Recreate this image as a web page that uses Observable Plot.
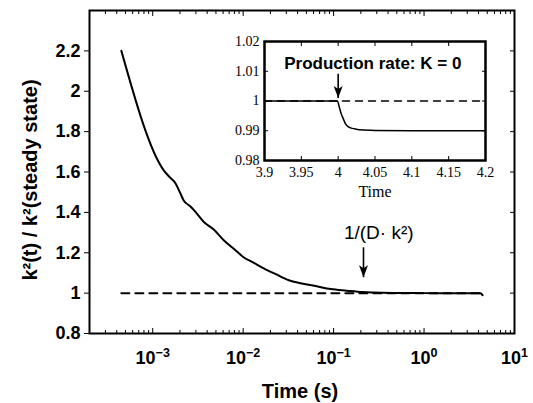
<!DOCTYPE html>
<html>
<head>
<meta charset="utf-8">
<script src="https://cdn.jsdelivr.net/npm/d3@7"></script>
<script src="https://cdn.jsdelivr.net/npm/@observablehq/plot@0.6"></script>
<style>
  html, body { margin: 0; padding: 0; background: white; }
  #chart { position: relative; width: 533px; height: 403px; overflow: hidden; }
</style>
</head>
<body>
<div id="chart"></div>
<script>
// ---------- data ----------
const times = [4.5e-4, 1.33e-3, 1.55e-3, 1.79e-3, 2.0e-3, 2.2e-3, 2.6e-3, 3.0e-3, 3.7e-3, 4.7e-3, 6.1e-3, 8e-3, 1.01e-2, 1.3e-2, 1.69e-2, 2.3e-2, 3.2e-2, 4.3e-2, 6.3e-2, 9.3e-2, 0.14, 0.21, 0.35, 0.55, 1.0, 2.0, 3.5, 4.2, 4.43];
const ratio = [2.2, 1.607, 1.573, 1.543, 1.499, 1.459, 1.43, 1.40, 1.351, 1.316, 1.262, 1.217, 1.178, 1.151, 1.123, 1.094, 1.064, 1.049, 1.035, 1.020, 1.012, 1.005, 1.0015, 1.001, 1.0, 1.0, 1.0, 1.0, 0.99];
const steadyTimes = [4.5e-4, 4.43];
const steadyLevel = 1;

const xMajor = [1e-3, 1e-2, 1e-1, 1e0, 1e1];
const xMajorLabels = ["10^\u22123", "10^\u22122", "10^\u22121", "10^0", "10^1"];
const xMinor = [2e-4,3e-4,4e-4,5e-4,6e-4,7e-4,8e-4,9e-4,2e-3,3e-3,4e-3,5e-3,6e-3,7e-3,8e-3,9e-3,2e-2,3e-2,4e-2,5e-2,6e-2,7e-2,8e-2,9e-2,0.2,0.3,0.4,0.5,0.6,0.7,0.8,0.9,2,3,4,5,6,7,8,9];
const yTicks = [0.8, 1, 1.2, 1.4, 1.6, 1.8, 2, 2.2];
const yTickLabels = ["0.8", "1", "1.2", "1.4", "1.6", "1.8", "2", "2.2"];
const xLabel = "Time (s)";
const yLabel = "k\u00B2(t) / k\u00B2(steady state)";
const diffNote = {text: "1/(D\u00B7 k\u00B2)", t: 0.13, v: 1.296, arrowT: 0.214, arrowFrom: 1.227, arrowTo: 1.079};

// inset
const insetTimes = [3.9, 3.95, 3.999, 4.001, 4.004, 4.007, 4.010, 4.014, 4.019, 4.025, 4.03, 4.05, 4.1, 4.2];
const insetRatio = [1.0, 1.0, 1.0, 0.9985, 0.9958, 0.994, 0.9923, 0.9913, 0.9908, 0.9905, 0.9903, 0.9901, 0.990, 0.990];
const insetRefTimes = [3.9, 4.2];
const insetRefLevel = 1;
const insetXTicks = [3.9, 3.95, 4, 4.05, 4.1, 4.15, 4.2];
const insetXTickLabels = ["3.9", "3.95", "4", "4.05", "4.1", "4.15", "4.2"];
const insetYTicks = [0.98, 0.99, 1, 1.01, 1.02];
const insetYTickLabels = ["0.98", "0.99", "1", "1.01", "1.02"];
const insetXLabel = "Time";
const prodNote = {text: "Production rate: K = 0", t: 4.047, v: 1.0126, arrowT: 4.0, arrowFrom: 1.0092, arrowTo: 1.001};

// ---------- helpers ----------
const curve = times.map((t, i) => ({t, v: ratio[i]}));
const steady = steadyTimes.map(t => ({t, v: steadyLevel}));
const insetCurve = insetTimes.map((t, i) => ({t, v: insetRatio[i]}));
const insetRef = insetRefTimes.map(t => ({t, v: insetRefLevel}));
const xTickLabelData = xMajor.map((t, i) => ({t, label: xMajorLabels[i]}));

const arrowHead = {
  draw(context) {
    context.moveTo(0, 0);
    context.lineTo(-4.5, -12);
    context.lineTo(0, -9);
    context.lineTo(4.5, -12);
    context.closePath();
  }
};

const sans = "'Liberation Sans', Arial, Helvetica, sans-serif";
const serif = "'Liberation Serif', 'Times New Roman', serif";

// ---------- main chart ----------
const main = Plot.plot({
  width: 533, height: 403,
  marginLeft: 89, marginRight: 19, marginTop: 10, marginBottom: 70,
  x: {type: "log", domain: [2e-4, 10]},
  y: {domain: [0.8, 2.4]},
  style: {fontFamily: sans, background: "white", color: "black", overflow: "visible"},
  marks: [
    // ticks (inward on bottom/top/right, outward on left)
    Plot.axisX({anchor: "bottom", ticks: xMajor, tickSize: -5, fill: "none", label: null}),
    Plot.axisX({anchor: "bottom", ticks: xMinor, tickSize: -3, fill: "none", label: null}),
    Plot.axisX({anchor: "top", ticks: xMajor, tickSize: -5, fill: "none", label: null}),
    Plot.axisX({anchor: "top", ticks: xMinor, tickSize: -3, fill: "none", label: null}),
    Plot.axisY({anchor: "right", ticks: yTicks, tickSize: -5, fill: "none", label: null}),
    Plot.axisY({anchor: "left", ticks: yTicks, tickSize: 5, tickPadding: 4, label: null,
      tickFormat: (d, i) => yTickLabels[i], fontSize: 18, fontWeight: "bold"}),
    // x tick labels (powers of ten)
    Plot.text(xTickLabelData, {x: "t", text: "label", frameAnchor: "bottom", lineAnchor: "middle", textAnchor: "middle",
      dy: 25, fontSize: 18, fontWeight: "bold", ariaLabel: "xticklabels"}),
    Plot.frame({stroke: "black", strokeWidth: 2}),
    // data
    Plot.line(steady, {x: "t", y: "v", stroke: "black", strokeWidth: 2, strokeDasharray: "8,6"}),
    Plot.line(curve, {x: "t", y: "v", stroke: "black", strokeWidth: 2, curve: "monotone-x"}),
    // annotation
    Plot.text([diffNote], {x: "t", y: "v", text: "text", textAnchor: "start", fontSize: 19}),
    Plot.link([diffNote], {x1: "arrowT", x2: "arrowT", y1: "arrowFrom", y2: "arrowTo", stroke: "black", strokeWidth: 1.6}),
    Plot.dot([diffNote], {x: "arrowT", y: "arrowTo", symbol: arrowHead, fill: "black", stroke: "none"}),
    // axis titles
    Plot.text([yLabel], {text: d => d, frameAnchor: "left", textAnchor: "middle", lineAnchor: "middle",
      rotate: -90, dx: -59, dy: 8, fontSize: 20, fontWeight: "bold"}),
    Plot.text([xLabel], {text: d => d, frameAnchor: "bottom", textAnchor: "middle", lineAnchor: "middle",
      dy: 58, dx: -2, fontSize: 20, fontWeight: "bold"})
  ]
});

// superscript exponents on the x tick labels
d3.select(main).selectAll("text").each(function() {
  const s = this.textContent;
  if (s && s.indexOf("^") >= 0) {
    const parts = s.split("^");
    while (this.firstChild) this.removeChild(this.firstChild);
    const ns = "http://www.w3.org/2000/svg";
    const a = document.createElementNS(ns, "tspan");
    a.textContent = parts[0];
    const b = document.createElementNS(ns, "tspan");
    b.setAttribute("dy", "-0.55em");
    b.setAttribute("font-size", "12.5");
    b.textContent = parts[1];
    this.appendChild(a);
    this.appendChild(b);
  }
});

// ---------- inset ----------
const inset = Plot.plot({
  width: 271, height: 164,
  marginLeft: 40, marginRight: 10, marginTop: 5, marginBottom: 40,
  x: {domain: [3.9, 4.2]},
  y: {domain: [0.98, 1.02]},
  style: {fontFamily: serif, background: "transparent", color: "black", overflow: "visible"},
  marks: [
    Plot.axisX({anchor: "bottom", ticks: insetXTicks, tickSize: -4, fill: "none", label: null}),
    Plot.axisX({anchor: "top", ticks: insetXTicks, tickSize: -4, fill: "none", label: null}),
    Plot.axisY({anchor: "left", ticks: insetYTicks, tickSize: -4, fill: "none", label: null}),
    Plot.axisY({anchor: "right", ticks: insetYTicks, tickSize: -4, fill: "none", label: null}),
    Plot.axisX({anchor: "bottom", ticks: insetXTicks, tickSize: 0, tickPadding: 7, label: null,
      tickFormat: (d, i) => insetXTickLabels[i], fontSize: 14}),
    Plot.axisY({anchor: "left", ticks: insetYTicks, tickSize: 0, tickPadding: 5, label: null,
      tickFormat: (d, i) => insetYTickLabels[i], fontSize: 14}),
    Plot.frame({stroke: "black", strokeWidth: 2.5}),
    Plot.line(insetRef, {x: "t", y: "v", stroke: "black", strokeWidth: 1.5, strokeDasharray: "7,6"}),
    Plot.line(insetCurve, {x: "t", y: "v", stroke: "black", strokeWidth: 1.5, curve: "monotone-x"}),
    Plot.text([prodNote], {x: "t", y: "v", text: "text", fontSize: 17, fontWeight: "bold", fontFamily: sans}),
    Plot.link([prodNote], {x1: "arrowT", x2: "arrowT", y1: "arrowFrom", y2: "arrowTo", stroke: "black", strokeWidth: 1.6}),
    Plot.dot([prodNote], {x: "arrowT", y: "arrowTo", symbol: arrowHead, fill: "black", stroke: "none"}),
    Plot.text([insetXLabel], {text: d => d, frameAnchor: "bottom", lineAnchor: "middle", dy: 31, fontSize: 16})
  ]
});
inset.style.position = "absolute";
inset.style.left = "224px";
inset.style.top = "36px";

const chart = document.getElementById("chart");
chart.appendChild(main);
chart.appendChild(inset);
</script>
</body>
</html>
